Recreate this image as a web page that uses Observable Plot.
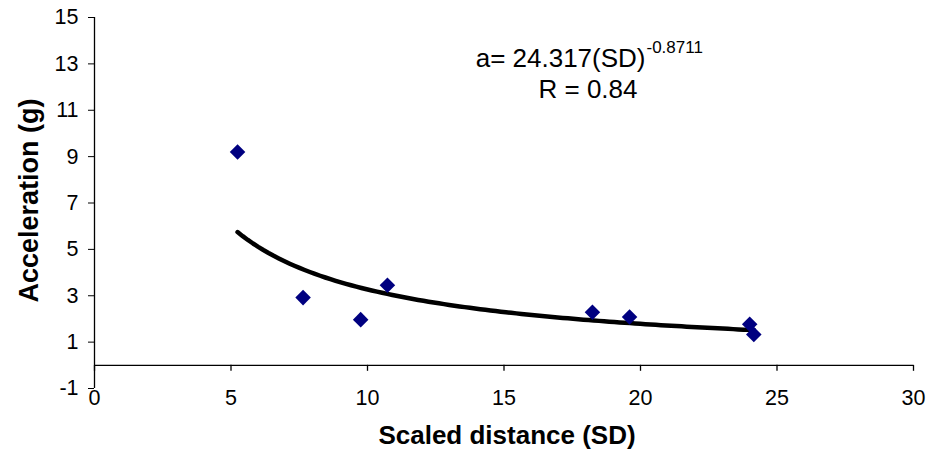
<!DOCTYPE html>
<html>
<head>
<meta charset="utf-8">
<script src="https://cdn.jsdelivr.net/npm/d3@7"></script>
<script src="https://cdn.jsdelivr.net/npm/@observablehq/plot@0.6"></script>
<style>
  html, body { margin: 0; padding: 0; background: #fff; }
</style>
</head>
<body>
<div id="chart"></div>
<script>
// Measured data (scaled distance vs. peak acceleration)
const sdValues = [5.24, 7.64, 9.75, 10.73, 18.24, 19.6, 24.0, 24.15];
const accValues = [9.2, 2.92, 1.97, 3.45, 2.29, 2.08, 1.77, 1.33];

// Power trendline shown in the chart: a = 24.317 * SD^-0.8711
const trendCoef = 24.317;
const trendExp = -0.8711;
const trendLabel = "a= 24.317(SD)";
const trendExpLabel = "-0.8711";
const rLabel = "R = 0.84";

// Axis ticks
const xTicks = [0, 5, 10, 15, 20, 25, 30];
const yTicks = [-1, 1, 3, 5, 7, 9, 11, 13, 15];

const xTitle = "Scaled distance (SD)";
const yTitle = "Acceleration (g)";

const points = sdValues.map((sd, i) => ({sd, acc: accValues[i]}));

// Trendline over the range of the data
const sdMin = d3.min(sdValues), sdMax = d3.max(sdValues);
const trend = d3.range(0, 101).map(k => {
  const sd = sdMin + (sdMax - sdMin) * k / 100;
  return {sd, acc: trendCoef * Math.pow(sd, trendExp)};
});

const chart = Plot.plot({
  width: 934,
  height: 456,
  marginLeft: 94,
  marginRight: 21,
  marginTop: 17,
  marginBottom: 68,
  style: {fontFamily: "'Liberation Sans', Arial, sans-serif", fontSize: "21px", color: "black", background: "white"},
  x: {domain: [0, 30]},
  y: {domain: [-1, 15]},
  marks: [
    Plot.axisY({ticks: yTicks, tickFormat: d => String(d), tickSize: 6, tickPadding: 10, fontSize: 21.5, label: null}),
    Plot.axisX({ticks: xTicks, tickFormat: d => String(d), tickSize: 0, tickPadding: 1, fontSize: 21.5, label: null}),
    Plot.ruleX([0], {stroke: "black", strokeWidth: 1.3}),
    Plot.ruleY([0], {stroke: "black", strokeWidth: 1.3}),
    Plot.ruleX(xTicks, {x: d => d, y1: 0, y2: 0, insetBottom: -6, stroke: "black", strokeWidth: 1.3}),
    Plot.line(trend, {x: "sd", y: "acc", stroke: "black", strokeWidth: 4.5, strokeLinecap: "round"}),
    Plot.dot(points, {x: "sd", y: "acc", symbol: "diamond2", r: 7, fill: "#000080", stroke: "none"}),
    Plot.text([trendLabel], {frameAnchor: "top-left", dx: 551, dy: 49, textAnchor: "end", lineAnchor: "bottom", fontSize: 26}),
    Plot.text([trendExpLabel], {frameAnchor: "top-left", dx: 552, dy: 35, textAnchor: "start", lineAnchor: "bottom", fontSize: 17}),
    Plot.text([rLabel], {frameAnchor: "top-left", dx: 493.5, dy: 80, textAnchor: "middle", lineAnchor: "bottom", fontSize: 26}),
    Plot.text([xTitle], {frameAnchor: "bottom", dx: 3, dy: 55, textAnchor: "middle", lineAnchor: "bottom", fontSize: 26, fontWeight: "bold"}),
    Plot.text([yTitle], {frameAnchor: "left", rotate: -90, dx: -57, dy: -2.5, textAnchor: "middle", lineAnchor: "bottom", fontSize: 27, fontWeight: "bold"})
  ]
});

document.getElementById("chart").appendChild(chart);
</script>
</body>
</html>
